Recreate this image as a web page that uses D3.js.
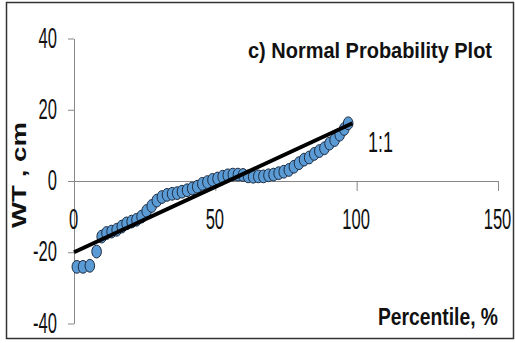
<!DOCTYPE html>
<html>
<head>
<meta charset="utf-8">
<script src="https://cdn.jsdelivr.net/npm/d3@7"></script>
<style>
  body { margin: 0; background: #fff; }
  svg text { font-family: "Liberation Sans Narrow", "Arial Narrow", "Liberation Sans", sans-serif; fill: #111; }
</style>
</head>
<body>
<div id="D3"></div>
<script>
// percentile of each ranked observation
var percentile = [1.0, 3.2, 5.6, 8.0, 9.8, 11.5, 13.3, 15.1, 16.9, 18.6, 20.4, 22.1, 23.9, 25.7, 27.5,
  29.3, 31.1, 32.9, 34.7, 36.5, 38.2, 40.0, 41.8, 43.6, 45.4, 47.2, 49.0, 50.8, 52.6, 54.4,
  56.2, 58.0, 59.8, 61.6, 63.4, 65.2, 67.0, 68.8, 70.6, 72.4, 74.2, 76.0, 77.8, 79.6, 81.4,
  83.2, 85.0, 86.8, 88.6, 90.4, 92.2, 94.0, 95.6, 97.0];
// WT values, cm
var wt = [-24.1, -24.1, -23.8, -19.8, -15.6, -14.6, -14.2, -13.7, -12.8, -11.9, -11.4, -10.9, -10.0, -8.4, -7.0,
  -5.5, -4.5, -3.9, -3.6, -3.4, -3.0, -2.6, -2.1, -1.6, -0.8, -0.3, 0.3, 0.7, 1.2, 1.6,
  1.8, 1.8, 1.7, 1.3, 1.2, 1.3, 1.3, 1.6, 1.8, 2.2, 2.6, 3.1, 4.0, 5.0, 6.0,
  6.6, 7.6, 8.4, 9.2, 10.5, 11.5, 13.0, 14.6, 16.2];
// 1:1 reference line end points
var lineX = [0, 98.5];
var lineY = [-20, 16.2];

var xTicks = [0, 50, 100, 150];
var yTicks = [-40, -20, 0, 20, 40];

var W = 515, H = 343;
var SVG = d3.select("#D3").append("svg")
  .attr("width", W)
  .attr("height", H);

// outer frame
SVG.append("rect")
  .attr("x", 6.5).attr("y", 2.5)
  .attr("width", 507).attr("height", 336)
  .attr("fill", "#fff")
  .attr("stroke", "#333")
  .attr("stroke-width", 1.5);

var x = d3.scaleLinear().domain([0, 150]).range([74, 498]);
var y = d3.scaleLinear().domain([-40, 40]).range([323.5, 38.5]);

// the picture's text is narrow and a bit tall
var stretch = 1.22;
var squeeze = 0.69;

// y axis
var yAxis = SVG.append("g")
  .attr("transform", "translate(" + x(0) + ",0)")
  .call(d3.axisLeft(y).tickValues(yTicks).tickSize(6).tickSizeOuter(0)
    .tickFormat(function (d) { return String(d); }));
yAxis.select(".domain").attr("stroke", "#888");
yAxis.selectAll(".tick line").attr("stroke", "#888");
yAxis.selectAll(".tick text")
  .attr("x", null).attr("dy", null)
  .attr("font-size", 24)
  .attr("text-anchor", "end")
  .attr("transform", "translate(-17,8.5) scale(" + squeeze + "," + stretch + ")");

// x axis at y = 0
var xAxis = SVG.append("g")
  .attr("transform", "translate(0," + y(0) + ")")
  .call(d3.axisBottom(x).tickValues(xTicks).tickSize(10).tickSizeOuter(0)
    .tickFormat(function (d) { return String(d); }));
xAxis.select(".domain").attr("stroke", "#888");
xAxis.selectAll(".tick line").attr("stroke", "#888");
xAxis.selectAll(".tick text")
  .attr("y", null).attr("dy", null)
  .attr("font-size", 24)
  .attr("text-anchor", "middle")
  .attr("transform", "translate(-1,48) scale(" + squeeze + "," + stretch + ")");

// points
SVG.append("g").selectAll("ellipse")
  .data(percentile)
  .enter()
  .append("ellipse")
  .attr("cx", function (d) { return x(d); })
  .attr("cy", function (d, i) { return y(wt[i]); })
  .attr("rx", 4.8)
  .attr("ry", 6.4)
  .attr("fill", "#5b9bd5")
  .attr("stroke", "#1d2b3f")
  .attr("stroke-width", 1);

// 1:1 line
SVG.append("line")
  .attr("x1", x(lineX[0])).attr("y1", y(lineY[0]))
  .attr("x2", x(lineX[1])).attr("y2", y(lineY[1]))
  .attr("stroke", "#000")
  .attr("stroke-width", 4);

function label(txt, tx, ty, size, bold, len) {
  return SVG.append("text")
    .attr("transform", "translate(" + tx + "," + ty + ") scale(1," + stretch + ")")
    .attr("font-size", size)
    .attr("font-weight", bold ? "bold" : "normal")
    .attr("textLength", len)
    .attr("lengthAdjust", "spacingAndGlyphs")
    .text(txt);
}

label("c) Normal Probability Plot", 248, 58, 18.5, true, 244);
label("1:1", 368, 152, 24, false, 25);
label("Percentile, %", 378, 325, 19, true, 120);

// rotated y title
SVG.append("text")
  .attr("transform", "translate(26,228) rotate(-90)")
  .attr("font-size", 21)
  .attr("font-weight", "bold")
  .attr("textLength", 106)
  .attr("lengthAdjust", "spacingAndGlyphs")
  .text("WT , cm");
</script>
</body>
</html>
